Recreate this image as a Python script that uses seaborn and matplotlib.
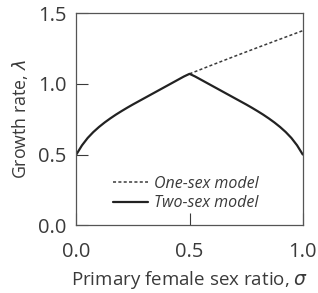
import matplotlib
matplotlib.use("Agg")
import matplotlib.pyplot as plt
import seaborn as sns
import pandas as pd

# values
sigma_two = [0.0, 0.025, 0.05, 0.075, 0.1, 0.125, 0.15, 0.175, 0.2, 0.225, 0.25,
             0.275, 0.3, 0.325, 0.35, 0.375, 0.4, 0.425, 0.45, 0.475, 0.5,
             0.525, 0.55, 0.575, 0.6, 0.625, 0.65, 0.675, 0.7, 0.725, 0.75,
             0.775, 0.8, 0.825, 0.85, 0.875, 0.9, 0.925, 0.95, 0.975, 1.0]
lambda_two = [0.500, 0.565, 0.617, 0.659, 0.695, 0.727, 0.756, 0.783, 0.808, 0.832, 0.855,
              0.877, 0.899, 0.921, 0.943, 0.965, 0.987, 1.009, 1.031, 1.053, 1.072,
              1.053, 1.031, 1.009, 0.987, 0.965, 0.943, 0.921, 0.899, 0.877, 0.855,
              0.832, 0.808, 0.783, 0.756, 0.727, 0.695, 0.659, 0.617, 0.565, 0.500]
sigma_one = [0.5, 0.6, 0.7, 0.8, 0.9, 1.0]
lambda_one = [1.072, 1.135, 1.197, 1.258, 1.318, 1.378]

xticks = [0.0, 0.5, 1.0]
yticks = [0.0, 0.5, 1.0, 1.5]

two = pd.DataFrame({"sigma": sigma_two, "lam": lambda_two})
one = pd.DataFrame({"sigma": sigma_one, "lam": lambda_one})

sns.set_style("ticks")
plt.rcParams["font.family"] = ["Open Sans", "DejaVu Sans"]
plt.rcParams["mathtext.fontset"] = "dejavusans"
grey = "#3a3a3a"

fig = plt.figure(figsize=(3.18, 2.93), dpi=100)
ax = fig.add_axes([0.24, 0.232, 0.712, 0.722])

sns.lineplot(data=one, x="sigma", y="lam", ax=ax, color=grey, lw=1.1,
             linestyle=(0, (2, 1.5)), label="One-sex model")
sns.lineplot(data=two, x="sigma", y="lam", ax=ax, color="#222222", lw=1.6,
             label="Two-sex model")

ax.set_xlim(0, 1)
ax.set_ylim(0, 1.5)
ax.set_xticks(xticks)
ax.set_yticks(yticks)
ax.set_xticklabels([f"{v:.1f}" for v in xticks])
ax.set_yticklabels([f"{v:.1f}" for v in yticks])
ax.tick_params(direction="in", length=8.5, width=0.8, color=grey,
               labelsize=14.5, labelcolor=grey)
ax.tick_params(axis="x", pad=12)
ax.tick_params(axis="y", pad=7)
for s in ax.spines.values():
    s.set_visible(True)
    s.set_color("#555555")
    s.set_linewidth(0.9)

ax.set_xlabel(r"Primary female sex ratio, $\sigma$", fontsize=13.5, color=grey, labelpad=5)
ax.set_ylabel(r"Growth rate, $\lambda$", fontsize=12.8, color=grey, labelpad=6)

leg = ax.legend(loc="lower left", bbox_to_anchor=(0.16, 0.065), frameon=False,
                fontsize=11.5, handlelength=2.2, handletextpad=0.4,
                borderpad=0, borderaxespad=0, labelspacing=0.2)
for t in leg.get_texts():
    t.set_fontstyle("italic")
    t.set_color(grey)

fig.savefig("out.png", dpi=100)
